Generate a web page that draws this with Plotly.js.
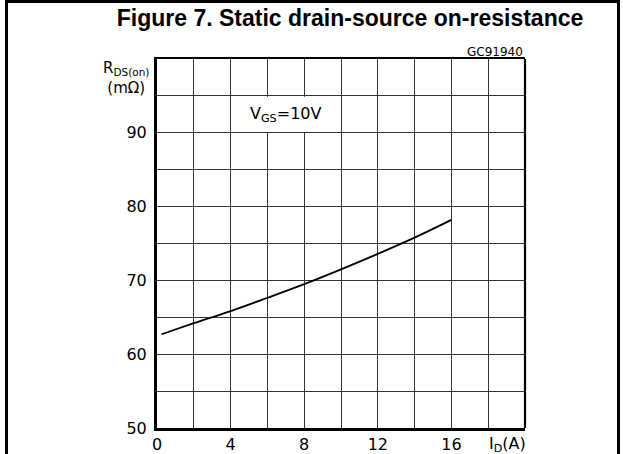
<!DOCTYPE html>
<html>
<head>
<meta charset="utf-8">
<script src="https://cdn.plot.ly/plotly-3.0.1.min.js"></script>
<style>
  html, body { margin: 0; padding: 0; background: #fff; }
  #wrap { position: relative; width: 623px; height: 454px; overflow: hidden; }
  #chart { position: absolute; left: 0; top: 0; width: 623px; height: 454px; }
  #frame { position: absolute; left: 5px; top: 0; width: 609px; height: 470px;
           border-left: 3px solid #000; border-right: 3px solid #000; border-top: 3px solid #000;
           pointer-events: none; }
</style>
</head>
<body>
<div id="wrap">
  <div id="chart"></div>
  <div id="frame"></div>
</div>
<script>
// Data
const idAmps = [0.25, 2, 4, 6, 8, 10, 12, 14, 16];
const rdsOn  = [62.7, 64.2, 65.85, 67.65, 69.5, 71.5, 73.6, 75.8, 78.2];

// Axis ticks
const xTickVals = [0, 2, 4, 6, 8, 10, 12, 14, 16, 18, 20];
const xTickText = ['0', '', '4', '', '8', '', '12', '', '16', '', ''];
const yTickVals = [50, 55, 60, 65, 70, 75, 80, 85, 90, 95, 100];
const yTickText = ['50', '', '60', '', '70', '', '80', '', '90', '', ''];

const tickFont = {family: 'DejaVu Sans', size: 16, color: '#000'};

const trace = {
  x: idAmps, y: rdsOn, type: 'scatter', mode: 'lines',
  line: {color: '#000', width: 1.8, shape: 'spline'},
  hoverinfo: 'skip'
};

const layout = {
  width: 623, height: 454,
  margin: {l: 157, r: 98, t: 59, b: 26, pad: 0},
  paper_bgcolor: '#fff', plot_bgcolor: '#fff',
  showlegend: false,
  title: {
    text: '<b>Figure 7. Static drain-source on-resistance</b>',
    font: {family: 'Liberation Sans', size: 23, color: '#000'},
    xref: 'container', yref: 'container',
    x: 350 / 623, xanchor: 'center',
    y: 1 - 18 / 454, yanchor: 'middle'
  },
  xaxis: {
    range: [0, 20], fixedrange: true,
    tickmode: 'array', tickvals: xTickVals, ticktext: xTickText,
    showgrid: true, gridcolor: '#333', gridwidth: 1,
    zeroline: false, showline: true, linecolor: '#000', linewidth: 2.5, mirror: true,
    ticks: '', tickfont: tickFont, ticklabelstandoff: 0
  },
  yaxis: {
    range: [50, 100], fixedrange: true,
    tickmode: 'array', tickvals: yTickVals, ticktext: yTickText,
    showgrid: true, gridcolor: '#333', gridwidth: 1,
    zeroline: false, showline: true, linecolor: '#000', linewidth: 3, mirror: false,
    ticks: '', tickfont: tickFont, ticklabelstandoff: 4
  },
  shapes: [
    {type: 'line', xref: 'paper', yref: 'paper', x0: 1, x1: 1, y0: 0, y1: 1,
     line: {color: '#000', width: 2.2}},
    {type: 'rect', xref: 'x', yref: 'y', x0: 4.04, x1: 9.96, y0: 90.12, y1: 94.88,
     fillcolor: '#fff', line: {width: 0}, layer: 'above'}
  ],
  annotations: [
    {text: 'V<sub>GS</sub>=10V', xref: 'x', yref: 'y', x: 7, y: 92.5,
     xanchor: 'center', yanchor: 'middle', showarrow: false,
     font: {family: 'DejaVu Sans', size: 16, color: '#000'}},
    {text: 'R<sub>DS(on)</sub><br>(mΩ)', xref: 'paper', yref: 'paper',
     x: (126 - 157) / 368, y: (428 - 78) / 369, xanchor: 'center', yanchor: 'middle',
     showarrow: false, align: 'center',
     font: {family: 'DejaVu Sans', size: 15, color: '#000'}},
    {text: 'I<sub>D</sub>(A)', xref: 'paper', yref: 'paper', x: 1, y: 0,
     xanchor: 'right', yanchor: 'middle', xshift: 3, yshift: -16, showarrow: false,
     font: {family: 'DejaVu Sans', size: 16, color: '#000'}},
    {text: 'GC91940', xref: 'paper', yref: 'paper', x: 1, y: 1,
     xanchor: 'right', yanchor: 'middle', yshift: 7, showarrow: false,
     font: {family: 'DejaVu Sans', size: 12, color: '#000'}}
  ]
};

Plotly.newPlot('chart', [trace], layout, {displayModeBar: false, staticPlot: true});
</script>
</body>
</html>
